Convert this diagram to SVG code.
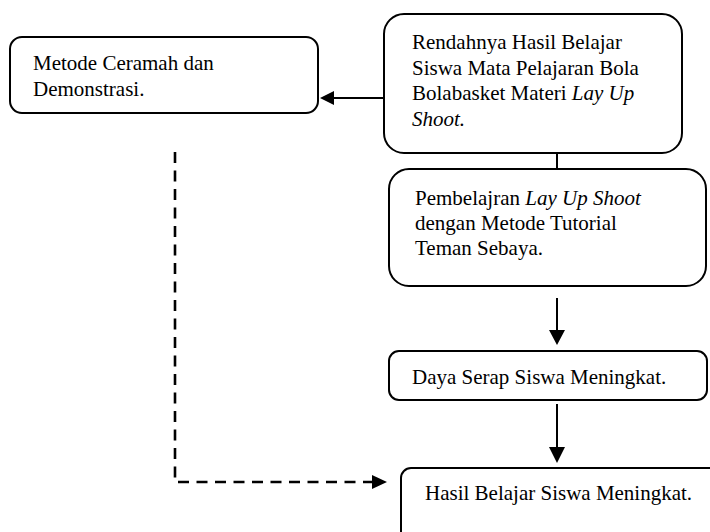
<svg xmlns="http://www.w3.org/2000/svg" width="710" height="532" viewBox="0 0 710 532">
<style>
.box{fill:#fff;stroke:#000;stroke-width:2}
.t{font-family:"Liberation Serif","Times New Roman",serif;font-size:21px;fill:#000}
.i{font-style:italic}
.ln{stroke:#000;stroke-width:2;fill:none}
.dash{stroke:#000;stroke-width:2.6;fill:none;stroke-dasharray:11 7.5}
.ah{fill:#000}
</style>
<rect width="710" height="532" fill="#fff"/>
<g id="connectors">
<line class="ln" x1="384" y1="98" x2="333" y2="98"/>
<polygon class="ah" points="320,98 334,91 334,105"/>
<line class="ln" x1="557" y1="153" x2="557" y2="169"/>
<line class="ln" x1="557" y1="298" x2="557" y2="332"/>
<polygon class="ah" points="557,345 549,330 565,330"/>
<line class="ln" x1="557" y1="404" x2="557" y2="449"/>
<polygon class="ah" points="557,463 549,447 565,447"/>
<path class="dash" d="M175,152 V482 H372"/>
<polygon class="ah" points="387,482 372,475 372,489"/>
</g>
<g id="metode">
<rect class="box" x="10" y="37" width="308" height="76" rx="12"/>
<text class="t" x="33" y="70">Metode Ceramah dan</text>
<text class="t" x="33" y="96">Demonstrasi.</text>
</g>
<g id="rendahnya">
<rect class="box" x="384" y="14" width="298" height="139" rx="20"/>
<text class="t" x="412" y="49">Rendahnya Hasil Belajar</text>
<text class="t" x="412" y="75">Siswa Mata Pelajaran Bola</text>
<text class="t" x="412" y="100">Bolabasket Materi <tspan class="i">Lay Up</tspan></text>
<text class="t i" x="412" y="126">Shoot.</text>
</g>
<g id="pembelajaran">
<rect class="box" x="389" y="169" width="317" height="117" rx="20"/>
<text class="t" x="415" y="205">Pembelajran <tspan class="i">Lay Up Shoot</tspan></text>
<text class="t" x="415" y="230">dengan Metode Tutorial</text>
<text class="t" x="415" y="255">Teman Sebaya.</text>
</g>
<g id="daya">
<rect class="box" x="389" y="351" width="318" height="49" rx="10"/>
<text class="t" x="412" y="384">Daya Serap Siswa Meningkat.</text>
</g>
<g id="hasil">
<rect class="box" x="401" y="468" width="330" height="80" rx="10"/>
<text class="t" x="425" y="500">Hasil Belajar Siswa Meningkat.</text>
</g>
</svg>
